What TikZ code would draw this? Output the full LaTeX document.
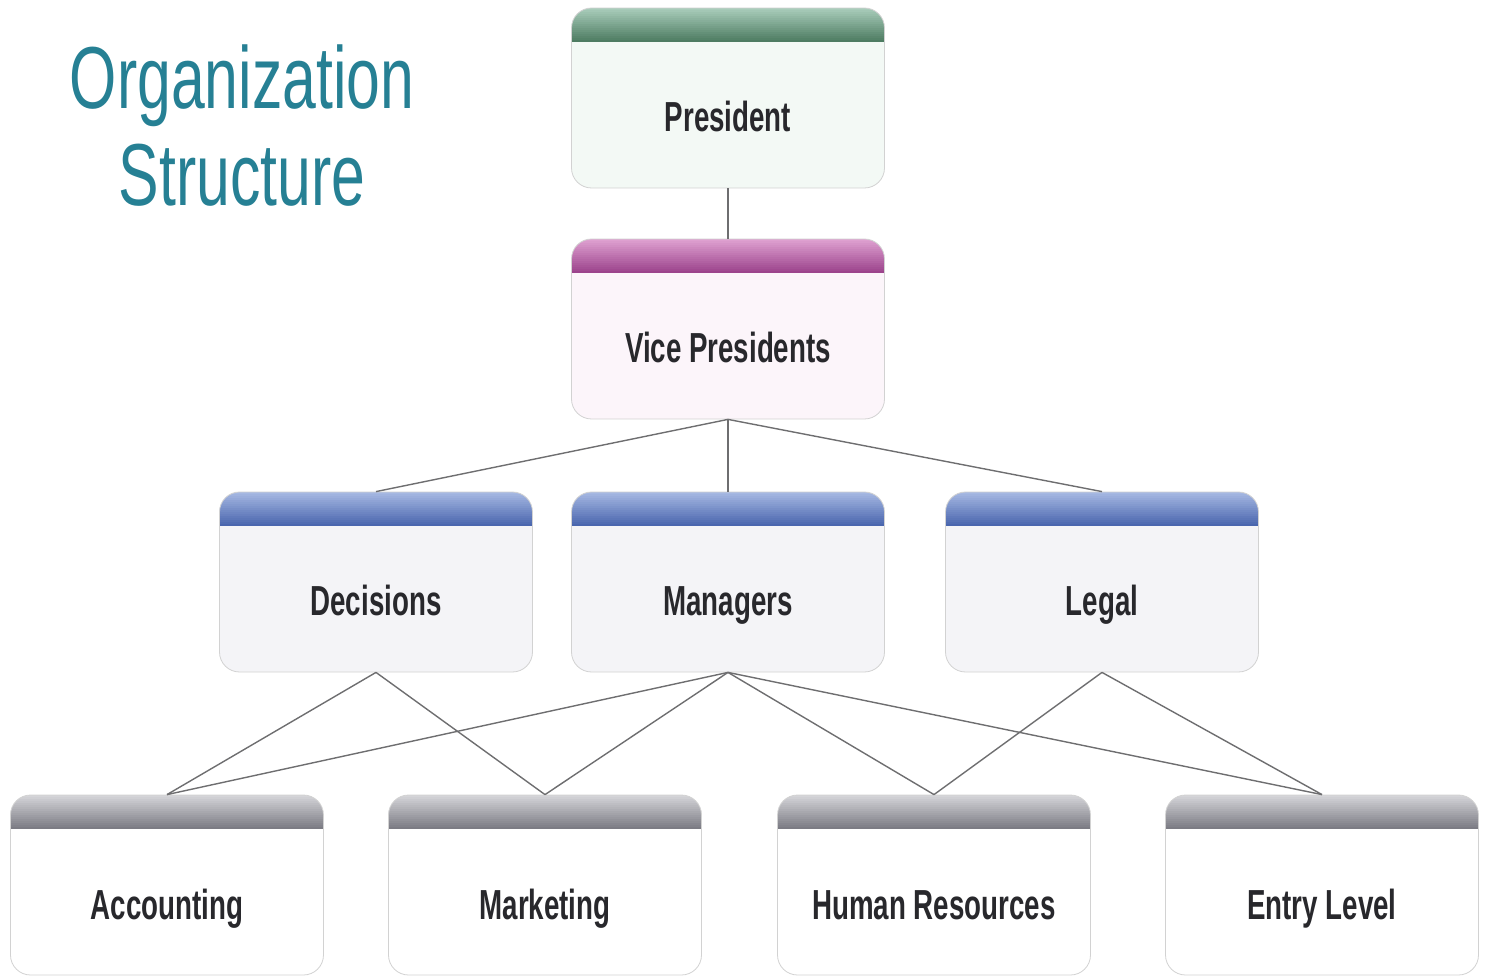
\documentclass[tikz,border=0pt]{standalone}
\usepackage{fontspec}
\usepackage{tikz}
\usetikzlibrary{shapes,arrows}
\newfontfamily\narrowsans[FakeStretch=0.66]{Liberation Sans}
\newfontfamily\titlesans[FakeStretch=0.69]{Liberation Sans}
\definecolor{titleteal}{RGB}{38,128,148}
\definecolor{textgray}{RGB}{40,40,44}
\definecolor{linegray}{RGB}{110,110,112}
\definecolor{greentop}{RGB}{168,204,186}
\definecolor{greenbot}{RGB}{78,124,98}
\definecolor{greenbody}{RGB}{243,249,245}
\definecolor{pinktop}{RGB}{222,160,208}
\definecolor{pinkbot}{RGB}{156,68,140}
\definecolor{pinkbody}{RGB}{252,245,250}
\definecolor{bluetop}{RGB}{166,184,226}
\definecolor{bluebot}{RGB}{74,102,174}
\definecolor{bluebody}{RGB}{244,244,247}
\definecolor{graytop}{RGB}{212,212,216}
\definecolor{graybot}{RGB}{124,124,132}
\tikzstyle{block} = [rectangle, draw=gray!35, rounded corners=10pt,
    minimum width=156.5pt, minimum height=90pt, text height=34pt, text depth=0pt,
    text=textgray, font=\narrowsans\bfseries\fontsize{21}{25}\selectfont]
\tikzset{head/.style 2 args={path picture={
    \foreach \k in {0,...,16}{
        \pgfmathtruncatemacro\pct{100*\k/16}
        \fill[sharp corners, #2!\pct!#1]
            ([yshift=-\k pt]path picture bounding box.north west)
            rectangle ([yshift=-\k pt-1.1pt]path picture bounding box.north east);
    }}}}
\tikzstyle{topblock} = [block, fill=greenbody, head={greentop}{greenbot}]
\tikzstyle{vpblock} = [block, fill=pinkbody, head={pinktop}{pinkbot}]
\tikzstyle{midblock} = [block, fill=bluebody, head={bluetop}{bluebot}]
\tikzstyle{lowblock} = [block, fill=white, head={graytop}{graybot}]
\tikzstyle{title} = [text=titleteal, align=center,
    font=\titlesans\fontsize{44}{48.5}\selectfont]
\tikzstyle{line} = [draw, linegray, line width=0.7pt]
\begin{document}
\begin{tikzpicture}
    \useasboundingbox (-364pt,49pt) rectangle (382pt,-439.5pt);
    % Place nodes
    \node [topblock] (President) {President};
    \node [vpblock, below of=President, node distance=115.5pt] (VP) {Vice Presidents};
    \node [midblock, below of=VP, node distance=126.5pt] (Managers) {Managers};
    \node [midblock, left of=Managers, node distance=176pt] (Decisions) {Decisions};
    \node [midblock, right of=Managers, node distance=187pt] (Legal) {Legal};
    \node [lowblock, below of=Decisions, node distance=151.5pt, xshift=-104.5pt] (Accounting) {Accounting};
    \node [lowblock, right of=Accounting, node distance=189pt] (Marketing) {Marketing};
    \node [lowblock, right of=Marketing, node distance=194.5pt] (HR) {Human Resources};
    \node [lowblock, right of=HR, node distance=194pt] (Entry) {Entry Level};
    \node [title] (Title) at (-243pt,-14pt) {Organization\\Structure};

    % Draw edges
    \path [line] (President.south) -- (VP.north);
    \path [line] (VP.south) -- (Decisions.north);
    \path [line] (VP.south) -- (Managers.north);
    \path [line] (VP.south) -- (Legal.north);
    \path [line] (Decisions.south) -- (Accounting.north);
    \path [line] (Decisions.south) -- (Marketing.north);
    \path [line] (Managers.south) -- (Accounting.north);
    \path [line] (Managers.south) -- (Marketing.north);
    \path [line] (Managers.south) -- (HR.north);
    \path [line] (Managers.south) -- (Entry.north);
    \path [line] (Legal.south) -- (HR.north);
    \path [line] (Legal.south) -- (Entry.north);
\end{tikzpicture}
\end{document}
